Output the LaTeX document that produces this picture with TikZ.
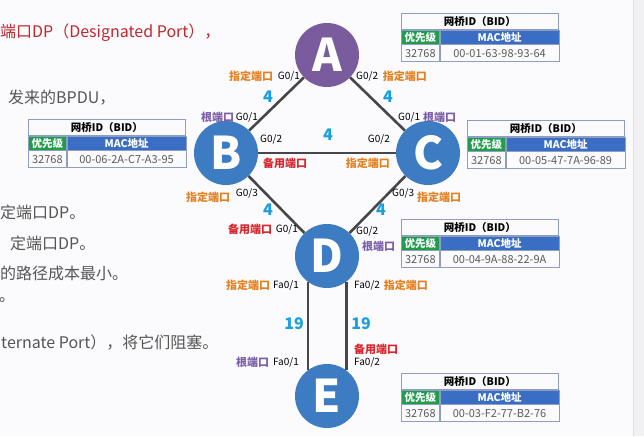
\documentclass[tikz,border=0pt]{standalone}
\usepackage{fontspec}
\setmainfont{Noto Sans CJK SC}
\newfontfamily\cjk{Noto Sans CJK SC}
\definecolor{bgc}{HTML}{FBFBFD}
\definecolor{edgec}{HTML}{F1F1F4}
\definecolor{dporange}{HTML}{E5801F}
\definecolor{rpurple}{HTML}{7B5EA7}
\definecolor{ared}{HTML}{D8262C}
\definecolor{costblue}{HTML}{1AA0E0}
\definecolor{apurple}{HTML}{7A5C9E}
\definecolor{swblue}{HTML}{3D7BC2}
\definecolor{linkc}{HTML}{474747}
\definecolor{tborder}{HTML}{8D9EC2}
\definecolor{pgreen}{HTML}{1F9D4C}
\definecolor{mblue}{HTML}{3A6DC4}
\definecolor{valgray}{HTML}{5A5A5A}
\definecolor{notegray}{HTML}{555555}
\definecolor{nred}{HTML}{C4262E}
\tikzset{
  tcell/.style={draw=tborder, line width=0.7pt, inner sep=0pt, anchor=north west, font=\cjk\fontsize{10.5}{11}\selectfont},
  tbold/.style={font=\cjk\bfseries\fontsize{10.5}{11}\selectfont},
  tval/.style={text=valgray, font=\cjk\fontsize{11}{12}\selectfont},
  sw/.style={circle, inner sep=0pt, minimum size=64pt, text=white, font=\cjk\bfseries\fontsize{45}{45}\selectfont},
  link/.style={draw=linkc, line width=2.6pt},
  pid/.style={inner sep=0pt, font=\cjk\fontsize{10}{11}\selectfont, text=black},
  prole/.style={inner sep=0pt, font=\cjk\bfseries\fontsize{11}{12}\selectfont},
  dp/.style={prole, text=dporange},
  rp/.style={prole, text=rpurple},
  ap/.style={prole, text=ared},
  cost/.style={inner sep=0pt, text=costblue, font=\cjk\bfseries\fontsize{16}{17}\selectfont},
  note/.style={inner sep=0pt, anchor=west, font=\cjk\fontsize{16}{17}\selectfont, text=notegray},
}
\newcommand\bidtab[4]{%
  \node[tcell, tbold, minimum width=157pt, minimum height=16pt] (#1h) at (#2,#3) {网桥ID（BID）};
  \node[tcell, tbold, fill=pgreen, text=white, minimum width=38pt, minimum height=14pt] (#1p) at (#1h.south west) {优先级};
  \node[tcell, tbold, fill=mblue, text=white, minimum width=119pt, minimum height=14pt] (#1m) at (#1p.north east) {MAC地址};
  \node[tcell, tval, minimum width=38pt, minimum height=17pt] (#1v) at (#1p.south west) {32768};
  \node[tcell, tval, minimum width=119pt, minimum height=17pt] (#1a) at (#1v.north east) {#4};
}
\begin{document}
\begin{tikzpicture}[x=1pt,y=-1pt]
\useasboundingbox (0,0) rectangle (644,436);
\fill[bgc] (0,0) rectangle (644,436);
\fill[edgec] (633,0) rectangle (644,436);
\draw[draw=black!12, line width=0.6pt] (633,0) -- (633,436);

% left explanatory text (its beginning lies beyond the slide edge)
\node[note, text=nred] (n1) at (0,33) {端口DP（Designated Port），};
\node[note] (n2) at (8,98) {发来的BPDU，};
\node[note] (n3) at (0,212) {定端口DP。};
\node[note] (n4) at (10,243) {定端口DP。};
\node[note] (n5) at (0,273) {的路径成本最小。};
\node[note] (n6) at (-1,300) {。};
\node[note] (n7) at (1,343) {ternate Port），将它们阻塞。};

% switches
\node[sw, fill=apurple] (A) at (327,55) {A};
\node[sw, fill=swblue] (B) at (226,153) {B};
\node[sw, fill=swblue] (C) at (428,153) {C};
\node[sw, fill=swblue] (D) at (327,256) {D};
\node[sw, fill=swblue] (E) at (327,396) {E};

% links
\draw[link] (A) -- (B);
\draw[link] (A) -- (C);
\draw[link] (B) -- (C);
\draw[link] (B) -- (D);
\draw[link] (C) -- (D);
\draw[link] (D.-126.4) -- (E.126.4);
\draw[link] (D.-53.6) -- (E.53.6);

% costs
\node[cost] (cAB) at (268,97) {4};
\node[cost] (cAC) at (388,97) {4};
\node[cost] (cBC) at (328,135) {4};
\node[cost] (cBD) at (268,210) {4};
\node[cost] (cCD) at (381,210) {4};
\node[cost] (cDE1) at (294,324) {19};
\node[cost] (cDE2) at (361,324) {19};

% port labels around A
\node[dp, anchor=west] (rA1) at (229,76) {指定端口};
\node[pid, anchor=east] (pA1) at (300,76) {G0/1};
\node[pid, anchor=west] (pA2) at (356,76) {G0/2};
\node[dp, anchor=east] (rA2) at (427,76) {指定端口};

% around B
\node[rp, anchor=west] (rB1) at (201,117) {根端口};
\node[pid, anchor=east] (pB1) at (258,117) {G0/1};
\node[pid, anchor=west] (pB2) at (260,139) {G0/2};
\node[ap, anchor=west] (rB2) at (263,163) {备用端口};
\node[dp, anchor=west] (rB3) at (186,197) {指定端口};
\node[pid, anchor=east] (pB3) at (258,193) {G0/3};

% around C
\node[pid, anchor=west] (pC1) at (398,117) {G0/1};
\node[rp, anchor=west] (rC1) at (423,117) {根端口};
\node[pid, anchor=east] (pC2) at (390,139) {G0/2};
\node[dp, anchor=east] (rC2) at (390,163) {指定端口};
\node[pid, anchor=west] (pC3) at (392,193) {G0/3};
\node[dp, anchor=west] (rC3) at (417,197) {指定端口};

% around D
\node[ap, anchor=west] (rD1) at (228,229) {备用端口};
\node[pid, anchor=east] (pD1) at (298,229) {G0/1};
\node[pid, anchor=west] (pD2) at (356,231) {G0/2};
\node[rp, anchor=west] (rD2) at (362,246) {根端口};
\node[dp, anchor=west] (rD3) at (226,285) {指定端口};
\node[pid, anchor=east] (pD3) at (299,285) {Fa0/1};
\node[pid, anchor=west] (pD4) at (354,285) {Fa0/2};
\node[dp, anchor=east] (rD4) at (428,285) {指定端口};

% around E
\node[ap, anchor=west] (rE2) at (354,349) {备用端口};
\node[pid, anchor=west] (pE2) at (354,362) {Fa0/2};
\node[rp, anchor=west] (rE1) at (236,362) {根端口};
\node[pid, anchor=east] (pE1) at (299,362) {Fa0/1};

% bridge ID tables
\bidtab{tA}{401}{13}{00-01-63-98-93-64}
\bidtab{tB}{28}{119}{00-06-2A-C7-A3-95}
\bidtab{tC}{467}{120}{00-05-47-7A-96-89}
\bidtab{tD}{401}{219}{00-04-9A-88-22-9A}
\bidtab{tE}{401}{373}{00-03-F2-77-B2-76}
\end{tikzpicture}
\end{document}
